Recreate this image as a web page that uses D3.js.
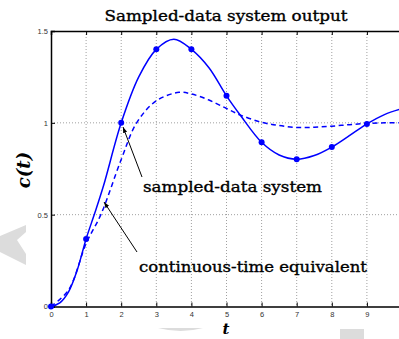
<!DOCTYPE html>
<html><head><meta charset="utf-8">
<script src="https://cdn.jsdelivr.net/npm/d3@7"></script>
<style>body{margin:0;background:#fff}svg{display:block}</style>
</head><body>
<svg id="c" width="399" height="339"></svg>
<script>
// ---- data ----
const sampleT = [0,1,2,3,4,5,6,7,8,9,10];
const sampleC = [0,0.368,1.0,1.4,1.4,1.147,0.894,0.802,0.868,0.994,1.077];
const solidT = [0,0.25,0.5,0.75,1,1.25,1.5,2,2.5,3,3.5,4,4.5,5,5.4,6,6.5,7,7.5,8,8.5,9,9.5,10];
const solidC = [0,0.02,0.08,0.2,0.368,0.51,0.66,1.0,1.25,1.4,1.455,1.4,1.3,1.147,1.04,0.894,0.825,0.802,0.822,0.868,0.93,0.994,1.045,1.077];
const contT = [0,0.5,1,1.42,2,2.44,3,3.65,4,4.5,5,5.4,6,6.5,7,7.5,8,8.5,9,9.5,10];
const contC = [0,0.09,0.343,0.5,0.8,1.0,1.12,1.166,1.157,1.124,1.078,1.042,1.003,0.985,0.975,0.976,0.982,0.99,0.997,1.0,1.0];
const xTicks = [0,1,2,3,4,5,6,7,8,9,10];
const xTickLabels = ["0","1","2","3","4","5","6","7","8","9",""];
const yTicks = [0,0.5,1,1.5];
const yTickLabels = ["0","0.5","1","1.5"];
const title = "Sampled-data system output";
const labelSampled = "sampled-data system";
const labelCont = "continuous-time equivalent";

// ---- layout ----
const svg = d3.select("#c");
const L=51, R=402, T=31, B=306.5;
const x = d3.scaleLinear().domain([0,10]).range([L,R]);
const y = d3.scaleLinear().domain([0,1.5]).range([B,T]);

// watermark shapes
svg.append("path").attr("d","M26,225 L26,232 L17,240 L26,254 L26,265 L0,252 L0,236 Z").attr("fill","#dcdcdc");
svg.append("path").attr("d","M158,328 L203,328 Q181,334 158,328 Z").attr("fill","#dcdcdc");
svg.append("rect").attr("x",340).attr("y",329).attr("width",24).attr("height",10).attr("fill","#dcdcdc");

// grid
const g = svg.append("g");
g.selectAll(".gx").data(xTicks.slice(1)).join("line")
  .attr("x1",d=>x(d)).attr("x2",d=>x(d)).attr("y1",T).attr("y2",B)
  .attr("stroke","#a0a0a0").attr("stroke-width",1).attr("stroke-dasharray","1,2");
g.selectAll(".gy").data(yTicks.slice(1,3)).join("line")
  .attr("y1",d=>y(d)).attr("y2",d=>y(d)).attr("x1",L).attr("x2",R)
  .attr("stroke","#a0a0a0").attr("stroke-width",1).attr("stroke-dasharray","1,2");

// axes
const xAxis = d3.axisBottom(x).tickValues(xTicks).tickSize(-4).tickPadding(5).tickFormat((d,i)=>xTickLabels[i]);
svg.append("g").attr("transform",`translate(0,${B})`).call(xAxis);
const xTop = d3.axisTop(x).tickValues(xTicks).tickSize(-4).tickFormat("");
svg.append("g").attr("transform",`translate(0,${T})`).call(xTop);
const yAxis = d3.axisLeft(y).tickValues(yTicks).tickSize(-4).tickPadding(3).tickFormat((d,i)=>yTickLabels[i]);
svg.append("g").attr("transform",`translate(${L},0)`).call(yAxis);
svg.selectAll(".domain").attr("stroke","#000").attr("stroke-width",1.5);
svg.selectAll(".tick line").attr("stroke","#000");
svg.selectAll(".tick text").attr("font-family","Liberation Sans, Arial, sans-serif").attr("font-size",7.5).attr("fill","#333");

// clip
svg.append("clipPath").attr("id","clip").append("rect").attr("x",L-4).attr("y",T-4).attr("width",R-L+8).attr("height",B-T+8);
const plot = svg.append("g").attr("clip-path","url(#clip)");

const line = d3.line().x(d=>x(d[0])).y(d=>y(d[1])).curve(d3.curveCatmullRom.alpha(0.5));
plot.append("path").datum(contT.map((t,i)=>[t,contC[i]])).attr("d",line)
  .attr("fill","none").attr("stroke","#0000ff").attr("stroke-width",1.5).attr("stroke-dasharray","5,3.5");
plot.append("path").datum(solidT.map((t,i)=>[t,solidC[i]])).attr("d",line)
  .attr("fill","none").attr("stroke","#0000ff").attr("stroke-width",1.5);
plot.selectAll(".pt").data(sampleT).join("circle")
  .attr("cx",d=>x(d)).attr("cy",(d,i)=>y(sampleC[i])).attr("r",3).attr("fill","#0000ff");

// title and labels
svg.append("text").attr("x",226).attr("y",21).attr("text-anchor","middle")
  .attr("font-family","DejaVu Serif, serif").attr("font-size",15)
  .attr("stroke","#000").attr("stroke-width",0.35)
  .attr("textLength",243).attr("lengthAdjust","spacingAndGlyphs").text(title);
svg.append("text").attr("transform","translate(30,170) rotate(-90)").attr("text-anchor","middle")
  .attr("font-family","DejaVu Serif, serif").attr("font-size",18).attr("font-weight","bold").attr("font-style","italic").text("c(t)");
svg.append("text").attr("x",226).attr("y",334).attr("text-anchor","middle")
  .attr("font-family","DejaVu Serif, serif").attr("font-size",15).attr("font-weight","bold").attr("font-style","italic").text("t");

svg.append("text").attr("x",143).attr("y",192)
  .attr("font-family","DejaVu Serif, serif").attr("font-size",15.5)
  .attr("stroke","#000").attr("stroke-width",0.35)
  .attr("textLength",179).attr("lengthAdjust","spacingAndGlyphs").text(labelSampled);
svg.append("text").attr("x",139).attr("y",272)
  .attr("font-family","DejaVu Serif, serif").attr("font-size",15.5)
  .attr("stroke","#000").attr("stroke-width",0.35)
  .attr("textLength",228).attr("lengthAdjust","spacingAndGlyphs").text(labelCont);

// arrows
const defs = svg.append("defs");
defs.append("marker").attr("id","ah").attr("viewBox","0 0 10 10").attr("refX",10).attr("refY",5)
  .attr("markerWidth",6).attr("markerHeight",6).attr("orient","auto")
  .append("path").attr("d","M0,1.5 L10,5 L0,8.5 Z").attr("fill","#000");
svg.append("line").attr("x1",142).attr("y1",177).attr("x2",123).attr("y2",127)
  .attr("stroke","#000").attr("stroke-width",1).attr("marker-end","url(#ah)");
svg.append("line").attr("x1",137).attr("y1",252).attr("x2",104).attr("y2",202)
  .attr("stroke","#000").attr("stroke-width",1).attr("marker-end","url(#ah)");
</script>
</body></html>
